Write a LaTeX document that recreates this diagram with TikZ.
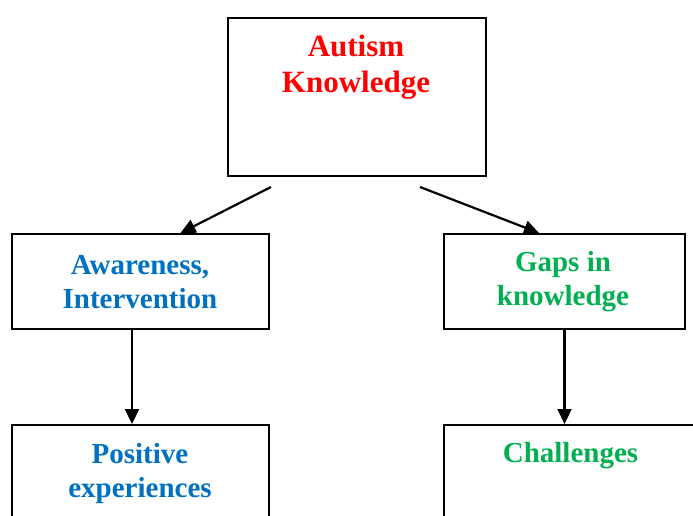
\documentclass[tikz,border=0pt]{standalone}
\usepackage{fontspec}
\setmainfont{Liberation Serif}
\usetikzlibrary{arrows.meta}
\definecolor{headred}{HTML}{FF0000}
\definecolor{headblue}{HTML}{0070C0}
\definecolor{headgreen}{HTML}{00B050}
\tikzset{
    box/.style={draw, line width=2pt, inner sep=0pt, anchor=north west},
    heading/.style={font=\bfseries\fontsize{29}{34}\selectfont, align=center, inner sep=0pt},
    link/.style={line width=2.2pt, -{Triangle[length=15pt,width=14pt]}}
}

\begin{document}
\begin{tikzpicture}[x=1pt,y=-1pt]
            \useasboundingbox (0,0) rectangle (693,516);
            \node[box, minimum width=258pt, minimum height=158pt] (autism) at (227,17) {};
            \node[box, minimum width=257pt, minimum height=95pt] (aware) at (11,233) {};
            \node[box, minimum width=241pt, minimum height=95pt] (gaps) at (443,233) {};
            \node[box, minimum width=257pt, minimum height=130pt] (positive) at (11,424) {};
            \node[box, minimum width=255pt, minimum height=130pt] (challenges) at (443,424) {};
            \node[heading, headred, font=\bfseries\fontsize{31}{36}\selectfont] (autismtext) at (356,67.5) {Autism\\Knowledge};
            \node[heading, headblue] (awaretext) at (140,282) {Awareness,\\Intervention};
            \node[heading, headgreen] (gapstext) at (563,282) {Gaps in\\knowledge};
            \node[heading, headblue] (positivetext) at (140,473.5) {Positive\\experiences};
            \node[heading, headgreen] (challengestext) at (570.5,455.5) {Challenges};
            \draw[link] ([xshift=-86pt,yshift=-10pt]autism.south) -- ([xshift=40pt]aware.north);
            \draw[link] ([xshift=63pt,yshift=-10pt]autism.south) -- ([xshift=-25.5pt]gaps.north);
            \draw[link] ([xshift=-8.5pt]aware.south) -- ([xshift=-8.5pt]positive.north);
            \draw[link] (gaps.south) -- (gaps.south |- challenges.north);
        \end{tikzpicture}
\end{document}
